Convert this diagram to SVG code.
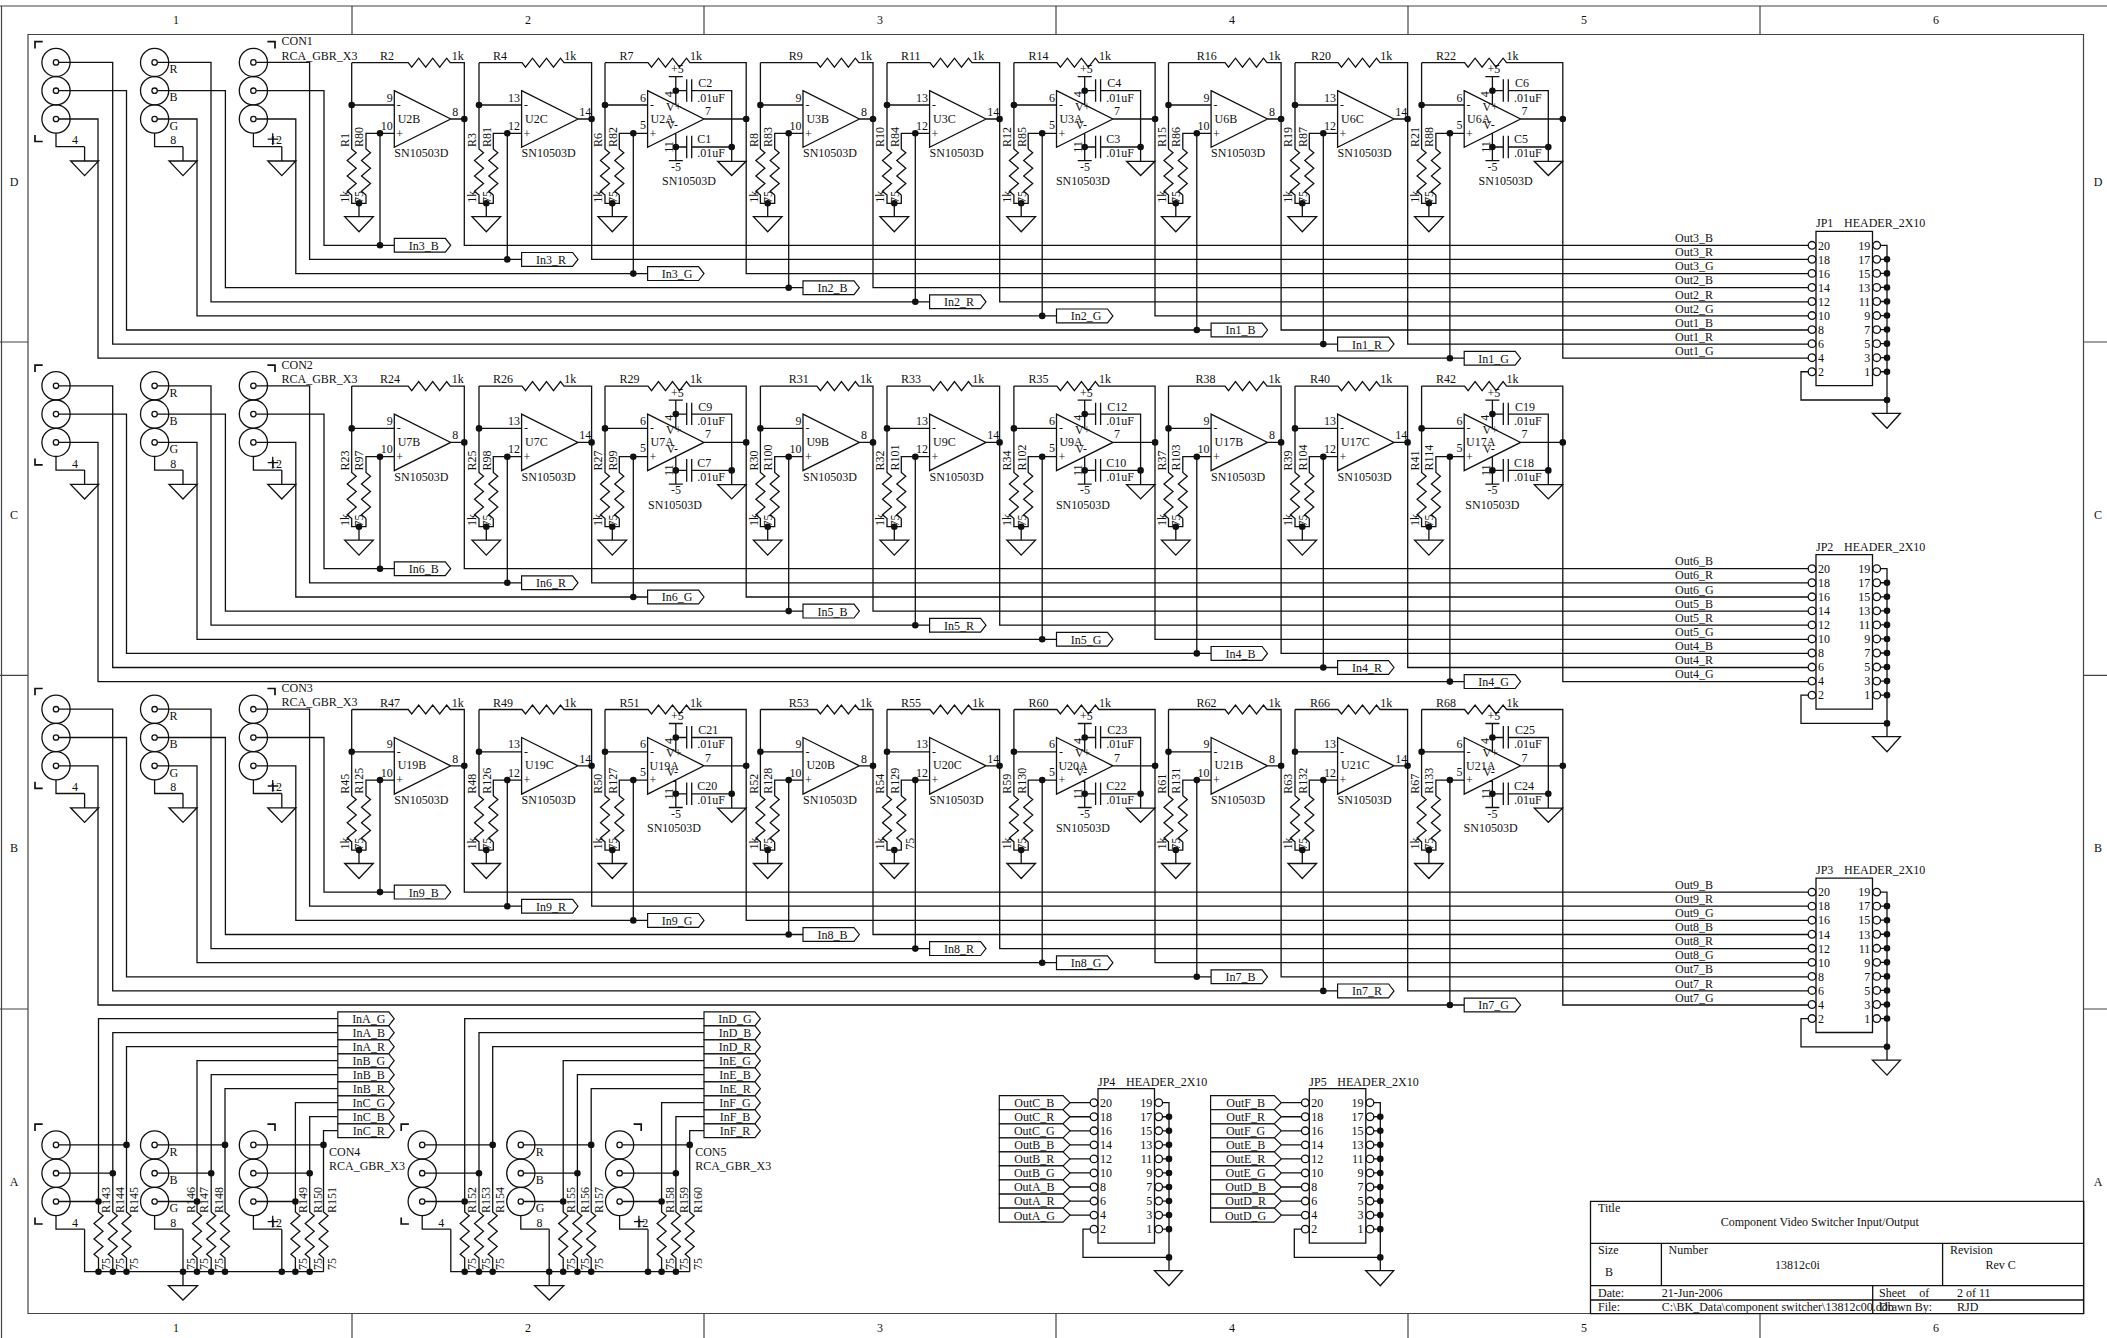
<svg xmlns="http://www.w3.org/2000/svg" width="2107" height="1338" viewBox="0 0 2107 1338">
<style>
text{font:12px "Liberation Serif","Times New Roman",serif;fill:#111}
.m{text-anchor:middle}.e{text-anchor:end}
.w{fill:none;stroke:#111;stroke-width:1.3}
.d{fill:none;stroke:#111;stroke-width:6.6;stroke-linecap:round}
.f{fill:none;stroke:#444;stroke-width:1.2}
.l{fill:#fff;stroke:#111;stroke-width:1.2}
</style>
<defs>
<g id="uB"><path class="w" d="M0 62.7H56.5l3.500 4.500 7-9 7 9 7-9 7 9 7-9 3.500 4.500H112.600V119H99M42.600 90.700L99 119 42.600 147.300ZM0 105H42.600M0 62.700V149l4.500 3.800-9 7.700 9 7.700-9 7.700 9 7.700-9 7.700 4.500 3.800V203.300H14.300V195.100M42.600 133.300H14.300V149l4.500 3.800-9 7.700 9 7.700-9 7.700 9 7.700-9 7.700 4.500 3.800M7.300 203.300V216.700M-7 216.700H21.600L7.300 231.700Z"/><path class="d" d="M0 105h0M112.600 119h0M28.300 133.300h0M7.300 203.300h0"/></g>
<g id="uC"><path class="w" d="M0 62.7H43l3.500 4.500 7-9 7 9 7-9 7 9 7-9 3.500 4.500H112.600V119H99M42.600 90.700L99 119 42.600 147.300ZM0 105H42.600M0 62.700V149l4.500 3.800-9 7.700 9 7.700-9 7.700 9 7.700-9 7.700 4.500 3.800V203.300H14.300V195.100M42.600 133.300H14.300V149l4.500 3.800-9 7.700 9 7.700-9 7.700 9 7.700-9 7.700 4.500 3.800M7.300 203.300V216.700M-7 216.700H21.600L7.300 231.700Z"/><path class="d" d="M0 105h0M112.600 119h0M28.300 133.300h0M7.300 203.300h0"/></g>
<g id="uP"><path class="w" d="M0 62.7H43l3.500 4.500 7-9 7 9 7-9 7 9 7-9 3.500 4.500H141.200V119H99M42.600 90.700L99 119 42.600 147.300ZM0 105H42.600M0 62.700V149l4.500 3.800-9 7.700 9 7.700-9 7.700 9 7.700-9 7.700 4.500 3.800V203.300H14.300V195.100M42.600 133.300H14.300V149l4.500 3.800-9 7.700 9 7.700-9 7.700 9 7.700-9 7.700 4.500 3.800M7.300 203.300V216.700M-7 216.700H21.600L7.300 231.700ZM70.800 76.700V105M63.800 76.700H77.800M70.800 133V160.700M63.800 160.700H77.800M70.800 90.700H81.700M86.700 90.700H126.700V161.300M81.700 79.300V101.700M86.700 79.300V101.700M70.800 147H81.700M86.700 147H126.700M81.700 135.700V158.300M86.700 135.700V158.300M112.700 161.300H141L126.700 175.500Z"/><path class="d" d="M0 105h0M141.200 119h0M28.300 133.300h0M7.300 203.300h0M70.800 90.700h0M70.800 147h0M126.700 147h0"/></g>
<g id="rca"><g class="w"><circle cx="56" cy="62.400" r="14.100"/><circle cx="56" cy="90.700" r="14.100"/><circle cx="56" cy="119" r="14.100"/><circle cx="154.600" cy="62.400" r="14.100"/><circle cx="154.600" cy="90.700" r="14.100"/><circle cx="154.600" cy="119" r="14.100"/><circle cx="253.400" cy="62.400" r="14.100"/><circle cx="253.400" cy="90.700" r="14.100"/><circle cx="253.400" cy="119" r="14.100"/><circle cx="56" cy="62.400" r="2.700"/><circle cx="56" cy="90.700" r="2.700"/><circle cx="56" cy="119" r="2.700"/><circle cx="154.600" cy="62.400" r="2.700"/><circle cx="154.600" cy="90.700" r="2.700"/><circle cx="154.600" cy="119" r="2.700"/><circle cx="253.400" cy="62.400" r="2.700"/><circle cx="253.400" cy="90.700" r="2.700"/><circle cx="253.400" cy="119" r="2.700"/><path d="M56 133.100V146.700H84.600M154.600 133.100V146.700H183M253.400 133.100V146.700H281.800M272.700 133.300V145M267.700 139.200H278.300"/><path stroke-width="1.700" d="M42.700 41.700H35V48.500M35 135V141.500H42.700M267.400 41.700H275V48.500"/></g></g>
<path id="rcaG" class="w" d="M84.600 146.700V161M70.600 161H98.600L84.600 175.600ZM183 146.700V161M169 161H197L183 175.600ZM281.800 146.700V161M267.800 161H295.800L281.800 175.600Z"/>
<path id="lbl" class="l" d="M0-6.900H51L56.400 0 51 6.900H0Z"/>
<path id="lbO" class="l" d="M0-7H63.700L70.700 0 63.700 7H0Z"/>
<g id="hdr"><path class="w" d="M0-14H56.500V140.400H0ZM64.500 0H71V168M-7.800 126.450H-15V154.700H71M56.500 168H84.400L71 183Z"/><g class="w"><circle cx="-4" cy="0" r="3.800"/><circle cx="-4" cy="14.050" r="3.800"/><circle cx="-4" cy="28.100" r="3.800"/><circle cx="-4" cy="42.150" r="3.800"/><circle cx="-4" cy="56.200" r="3.800"/><circle cx="-4" cy="70.250" r="3.800"/><circle cx="-4" cy="84.300" r="3.800"/><circle cx="-4" cy="98.350" r="3.800"/><circle cx="-4" cy="112.400" r="3.800"/><circle cx="-4" cy="126.450" r="3.800"/><circle cx="60.700" cy="0" r="3.800"/><circle cx="60.700" cy="14.050" r="3.800"/><circle cx="60.700" cy="28.100" r="3.800"/><circle cx="60.700" cy="42.150" r="3.800"/><circle cx="60.700" cy="56.200" r="3.800"/><circle cx="60.700" cy="70.250" r="3.800"/><circle cx="60.700" cy="84.300" r="3.800"/><circle cx="60.700" cy="98.350" r="3.800"/><circle cx="60.700" cy="112.400" r="3.800"/><circle cx="60.700" cy="126.450" r="3.800"/><path d="M64.500 14.050H71M64.500 28.100H71M64.500 42.150H71M64.500 56.200H71M64.500 70.250H71M64.500 84.300H71M64.500 98.350H71M64.500 112.400H71M64.500 126.450H71"/></g><path class="d" d="M71 14.050h0M71 28.100h0M71 42.150h0M71 56.200h0M71 70.250h0M71 84.300h0M71 98.350h0M71 112.400h0M71 126.450h0M71 154.700h0"/></g>
</defs>
<rect width="2107" height="1338" fill="#fff"/>
<g id="frame"><path class="f" d="M0 6H2107M1.500 6V1338M28 34.500H2083.500V1313.500H28ZM352 6V34.500M704 6V34.500M1056 6V34.500M1408 6V34.500M1760 6V34.500M352 1313.500V1338M704 1313.500V1338M1056 1313.500V1338M1408 1313.500V1338M1760 1313.500V1338M0 342H28M0 675.300H28M0 1009H28M2083.500 342H2107M2083.500 675.300H2107M2083.500 1009H2107"/>
<text class="m" x="176" y="24">1</text><text class="m" x="528" y="24">2</text><text class="m" x="880" y="24">3</text><text class="m" x="1232" y="24">4</text><text class="m" x="1584" y="24">5</text><text class="m" x="1936" y="24">6</text>
<text class="m" x="176" y="1332">1</text><text class="m" x="528" y="1332">2</text><text class="m" x="880" y="1332">3</text><text class="m" x="1232" y="1332">4</text><text class="m" x="1584" y="1332">5</text><text class="m" x="1936" y="1332">6</text>
<text class="m" x="14" y="186">D</text><text class="m" x="14" y="519">C</text><text class="m" x="14" y="852">B</text><text class="m" x="14" y="1186">A</text>
<text class="m" x="2098" y="186">D</text><text class="m" x="2098" y="519">C</text><text class="m" x="2098" y="852">B</text><text class="m" x="2098" y="1186">A</text></g>
<g id="connectors">
<path id="busW" class="w" d="M256.500 90.700H324V245.300H394.300M256.500 62.400H309.600V259.400H521.600M256.500 119H295.800V273.600H647.600M157.600 90.700H225.400V287.700H803M157.600 62.400H211V301.800H929.600M157.600 119H197V315.900H1056.500M59 90.700H126.500V330H1211.100M59 62.400H112.700V344.100H1337.600M59 119H98V358.200H1464.200M464.300 119V245.300H1808M591.700 119V259.400H1808M746.200 119V273.600H1808M873 119V287.700H1808M999.700 119V301.800H1808M1155 119V315.900H1808M1281.100 119V330H1808M1407.700 119V344.100H1808M1562.800 119V358.200H1808M380 133.300V245.300M507.300 133.300V259.400M633.300 133.300V273.600M788.700 133.300V287.700M915.300 133.300V301.800M1042.200 133.300V315.900M1196.800 133.300V330M1323.300 133.300V344.100M1449.900 133.300V358.200"/>
<path id="busD" class="d" d="M380 245.300h0M507.300 259.400h0M633.300 273.600h0M788.700 287.700h0M915.300 301.800h0M1042.200 315.900h0M1196.800 330h0M1323.300 344.100h0M1449.900 358.200h0"/>
<use href="#busW" y="323.400"/><use href="#busD" y="323.400"/><use href="#busW" y="646.800"/><use href="#busD" y="646.800"/>
<path id="botW" class="w" d="M59 1144.900H126.500V1046.700H337.800M59 1173.200H112.800V1032.700H337.800M59 1201.500H98.500V1018.700H337.800M157.600 1144.900H225V1088.700H337.800M157.600 1173.200H211.200V1074.700H337.800M157.600 1201.500H197V1060.700H337.800M256.400 1144.900H323.500V1130.700H337.800M256.400 1173.200H309.700V1116.700H337.800M256.400 1201.500H295.400V1102.700H337.800M98.500 1201.500V1212l4.500 3.800-9 7.700 9 7.700-9 7.700 9 7.700-9 7.700 4.500 3.800V1271.700M112.800 1173.200V1212l4.500 3.800-9 7.700 9 7.700-9 7.700 9 7.700-9 7.700 4.500 3.800V1271.700M126.500 1144.900V1212l4.500 3.800-9 7.700 9 7.700-9 7.700 9 7.700-9 7.700 4.500 3.800V1271.700M197 1201.500V1212l4.500 3.800-9 7.700 9 7.700-9 7.700 9 7.700-9 7.700 4.500 3.800V1271.700M211.200 1173.200V1212l4.500 3.800-9 7.700 9 7.700-9 7.700 9 7.700-9 7.700 4.500 3.800V1271.700M225 1144.900V1212l4.500 3.800-9 7.700 9 7.700-9 7.700 9 7.700-9 7.700 4.500 3.800V1271.700M295.400 1201.500V1212l4.500 3.800-9 7.700 9 7.700-9 7.700 9 7.700-9 7.700 4.500 3.800V1271.700M309.700 1173.200V1212l4.500 3.800-9 7.700 9 7.700-9 7.700 9 7.700-9 7.700 4.500 3.800V1271.700M323.500 1144.900V1212l4.500 3.800-9 7.700 9 7.700-9 7.700 9 7.700-9 7.700 4.500 3.800V1271.700M84.600 1229.200V1271.700H323.500M183 1229.200V1285.700M281.800 1229.200V1271.700M168.400 1285.700H197.600L183 1300Z"/>
<path id="botD" class="d" d="M126.500 1144.900h0M112.800 1173.200h0M98.500 1201.500h0M225 1144.900h0M211.200 1173.200h0M197 1201.500h0M323.500 1144.900h0M309.700 1173.200h0M295.400 1201.500h0M98.500 1271.700h0M112.800 1271.700h0M126.500 1271.700h0M183 1271.700h0M197 1271.700h0M211.200 1271.700h0M225 1271.700h0M281.800 1271.700h0M295.400 1271.700h0M309.700 1271.700h0"/>
<use href="#botW" x="366.200"/><use href="#botD" x="366.200"/>
<path id="outW" class="w" d="M1070 1102.700H1090M1070 1116.750H1090M1070 1130.800H1090M1070 1144.850H1090M1070 1158.900H1090M1070 1172.950H1090M1070 1187H1090M1070 1201.050H1090M1070 1215.100H1090"/>
<use href="#outW" x="211.300"/>
</g>
<g id="row1">
<g id="CON1"><use href="#rca"/><use href="#rcaG"/><text x="169.500" y="73.200">R</text><text x="169.500" y="101.200">B</text><text x="169.500" y="129.900">G</text><text class="m" x="75" y="144.300">4</text><text class="m" x="173.300" y="144.300">8</text><text x="270" y="144.300">12</text><text x="281.500" y="45.200">CON1</text><text x="281.500" y="59.500">RCA_GBR_X3</text></g>
<g id="U2B" transform="translate(351.7 0)"><use href="#uB"/><text x="28.300" y="60">R2</text><text x="100" y="60">1k</text><text class="e" x="41" y="101.700">9</text><text class="e" x="41" y="130">10</text><text x="100.600" y="116">8</text><text x="45" y="109">-</text><text x="44.500" y="137.500">+</text><text x="46" y="122.700">U2B</text><text x="42.600" y="157.300">SN10503D</text><text transform="translate(-2.7 147)rotate(-90)">R1</text><text transform="translate(11.6 147)rotate(-90)">R80</text><text transform="translate(-2.7 202.7)rotate(-90)">1k</text><text transform="translate(11.6 203)rotate(-90)">75</text></g>
<g id="U2C" transform="translate(479 0)"><use href="#uC"/><text x="14" y="60">R4</text><text x="85.300" y="60">1k</text><text class="e" x="41" y="101.700">13</text><text class="e" x="41" y="130">12</text><text x="100.300" y="116">14</text><text x="45" y="109">-</text><text x="44.500" y="137.500">+</text><text x="46" y="122.700">U2C</text><text x="42.600" y="157.300">SN10503D</text><text transform="translate(-2.7 147)rotate(-90)">R3</text><text transform="translate(11.6 147)rotate(-90)">R81</text><text transform="translate(-2.7 202.7)rotate(-90)">1k</text><text transform="translate(11.6 203)rotate(-90)">75</text></g>
<g id="U2A" transform="translate(605 0)"><use href="#uP"/><text x="14.500" y="60">R7</text><text x="85" y="60">1k</text><text class="e" x="41" y="101.700">6</text><text class="e" x="41" y="129">5</text><text x="100" y="115">7</text><text x="45" y="109">-</text><text x="44.500" y="137.500">+</text><text x="45.500" y="123">U2A</text><text x="61" y="110.700">V+</text><text x="61.500" y="129.300">V-</text><text transform="translate(67.7 97.3)rotate(-90)">4</text><text transform="translate(68 152.7)rotate(-90)">11</text><text x="66" y="73.300">+5</text><text x="66" y="171">-5</text><text x="93.300" y="87.300">C2</text><text x="92.300" y="101.700">.01uF</text><text x="92.300" y="143.300">C1</text><text x="92.300" y="157.300">.01uF</text><text x="57" y="185.300">SN10503D</text><text transform="translate(-2.7 147)rotate(-90)">R6</text><text transform="translate(11.6 147)rotate(-90)">R82</text><text transform="translate(-2.7 202.7)rotate(-90)">1k</text><text transform="translate(11.6 203)rotate(-90)">75</text></g>
<g id="U3B" transform="translate(760.4 0)"><use href="#uB"/><text x="28.300" y="60">R9</text><text x="99.500" y="60">1k</text><text class="e" x="41" y="101.700">9</text><text class="e" x="41" y="130">10</text><text x="100.600" y="116">8</text><text x="45" y="109">-</text><text x="44.500" y="137.500">+</text><text x="46" y="122.700">U3B</text><text x="42.600" y="157.300">SN10503D</text><text transform="translate(-2.7 147)rotate(-90)">R8</text><text transform="translate(11.6 147)rotate(-90)">R83</text><text transform="translate(-2.7 202.7)rotate(-90)">1k</text><text transform="translate(11.6 203)rotate(-90)">75</text></g>
<g id="U3C" transform="translate(887 0)"><use href="#uC"/><text x="14" y="60">R11</text><text x="85.300" y="60">1k</text><text class="e" x="41" y="101.700">13</text><text class="e" x="41" y="130">12</text><text x="100.300" y="116">14</text><text x="45" y="109">-</text><text x="44.500" y="137.500">+</text><text x="46" y="122.700">U3C</text><text x="42.600" y="157.300">SN10503D</text><text transform="translate(-2.7 147)rotate(-90)">R10</text><text transform="translate(11.6 147)rotate(-90)">R84</text><text transform="translate(-2.7 202.7)rotate(-90)">1k</text><text transform="translate(11.6 203)rotate(-90)">75</text></g>
<g id="U3A" transform="translate(1013.9 0)"><use href="#uP"/><text x="14.500" y="60">R14</text><text x="85" y="60">1k</text><text class="e" x="41" y="101.700">6</text><text class="e" x="41" y="129">5</text><text x="100" y="115">7</text><text x="45" y="109">-</text><text x="44.500" y="137.500">+</text><text x="45.500" y="123">U3A</text><text x="61" y="110.700">V+</text><text x="61.500" y="129.300">V-</text><text transform="translate(67.7 97.3)rotate(-90)">4</text><text transform="translate(68 152.7)rotate(-90)">11</text><text x="66" y="73.300">+5</text><text x="66" y="171">-5</text><text x="93.300" y="87.300">C4</text><text x="92.300" y="101.700">.01uF</text><text x="92.300" y="143.300">C3</text><text x="92.300" y="157.300">.01uF</text><text x="42" y="185.300">SN10503D</text><text transform="translate(-2.7 147)rotate(-90)">R12</text><text transform="translate(11.6 147)rotate(-90)">R85</text><text transform="translate(-2.7 202.7)rotate(-90)">1k</text><text transform="translate(11.6 203)rotate(-90)">75</text></g>
<g id="U6B" transform="translate(1168.5 0)"><use href="#uB"/><text x="28.300" y="60">R16</text><text x="100" y="60">1k</text><text class="e" x="41" y="101.700">9</text><text class="e" x="41" y="130">10</text><text x="100.600" y="116">8</text><text x="45" y="109">-</text><text x="44.500" y="137.500">+</text><text x="46" y="122.700">U6B</text><text x="42.600" y="157.300">SN10503D</text><text transform="translate(-2.7 147)rotate(-90)">R15</text><text transform="translate(11.6 147)rotate(-90)">R86</text><text transform="translate(-2.7 202.7)rotate(-90)">1k</text><text transform="translate(11.6 203)rotate(-90)">75</text></g>
<g id="U6C" transform="translate(1295 0)"><use href="#uC"/><text x="16" y="60">R20</text><text x="85.300" y="60">1k</text><text class="e" x="41" y="101.700">13</text><text class="e" x="41" y="130">12</text><text x="100.300" y="116">14</text><text x="45" y="109">-</text><text x="44.500" y="137.500">+</text><text x="46" y="122.700">U6C</text><text x="42.600" y="157.300">SN10503D</text><text transform="translate(-2.7 147)rotate(-90)">R19</text><text transform="translate(11.6 147)rotate(-90)">R87</text><text transform="translate(-2.7 202.7)rotate(-90)">1k</text><text transform="translate(11.6 203)rotate(-90)">75</text></g>
<g id="U6A" transform="translate(1421.6 0)"><use href="#uP"/><text x="14.500" y="60">R22</text><text x="85" y="60">1k</text><text class="e" x="41" y="101.700">6</text><text class="e" x="41" y="129">5</text><text x="100" y="115">7</text><text x="45" y="109">-</text><text x="44.500" y="137.500">+</text><text x="45.500" y="123">U6A</text><text x="61" y="110.700">V+</text><text x="61.500" y="129.300">V-</text><text transform="translate(67.7 97.3)rotate(-90)">4</text><text transform="translate(68 152.7)rotate(-90)">11</text><text x="66" y="73.300">+5</text><text x="66" y="171">-5</text><text x="93.300" y="87.300">C6</text><text x="92.300" y="101.700">.01uF</text><text x="92.300" y="143.300">C5</text><text x="92.300" y="157.300">.01uF</text><text x="57" y="185.300">SN10503D</text><text transform="translate(-2.7 147)rotate(-90)">R21</text><text transform="translate(11.6 147)rotate(-90)">R88</text><text transform="translate(-2.7 202.7)rotate(-90)">1k</text><text transform="translate(11.6 203)rotate(-90)">75</text></g>
<g id="In3_B" transform="translate(394.3 245.3)"><use href="#lbl"/><text class="m" x="29.500" y="4.400">In3_B</text></g>
<g id="In3_R" transform="translate(521.6 259.4)"><use href="#lbl"/><text class="m" x="29.500" y="4.400">In3_R</text></g>
<g id="In3_G" transform="translate(647.6 273.6)"><use href="#lbl"/><text class="m" x="29.500" y="4.400">In3_G</text></g>
<g id="In2_B" transform="translate(803 287.7)"><use href="#lbl"/><text class="m" x="29.500" y="4.400">In2_B</text></g>
<g id="In2_R" transform="translate(929.6 301.8)"><use href="#lbl"/><text class="m" x="29.500" y="4.400">In2_R</text></g>
<g id="In2_G" transform="translate(1056.5 315.9)"><use href="#lbl"/><text class="m" x="29.500" y="4.400">In2_G</text></g>
<g id="In1_B" transform="translate(1211.1 330)"><use href="#lbl"/><text class="m" x="29.500" y="4.400">In1_B</text></g>
<g id="In1_R" transform="translate(1337.6 344.1)"><use href="#lbl"/><text class="m" x="29.500" y="4.400">In1_R</text></g>
<g id="In1_G" transform="translate(1464.2 358.2)"><use href="#lbl"/><text class="m" x="29.500" y="4.400">In1_G</text></g>
<g id="nets1"><text x="1675" y="242">Out3_B</text><text x="1675" y="256.100">Out3_R</text><text x="1675" y="270.300">Out3_G</text><text x="1675" y="284.400">Out2_B</text><text x="1675" y="298.500">Out2_R</text><text x="1675" y="312.600">Out2_G</text><text x="1675" y="326.700">Out1_B</text><text x="1675" y="340.800">Out1_R</text><text x="1675" y="354.900">Out1_G</text></g>
</g>
<g id="row2" transform="translate(0 323.4)">
<g id="CON2"><use href="#rca"/><use href="#rcaG"/><text x="169.500" y="73.200">R</text><text x="169.500" y="101.200">B</text><text x="169.500" y="129.900">G</text><text class="m" x="75" y="144.300">4</text><text class="m" x="173.300" y="144.300">8</text><text x="270" y="144.300">12</text><text x="281.500" y="45.200">CON2</text><text x="281.500" y="59.500">RCA_GBR_X3</text></g>
<g id="U7B" transform="translate(351.7 0)"><use href="#uB"/><text x="28.300" y="60">R24</text><text x="100" y="60">1k</text><text class="e" x="41" y="101.700">9</text><text class="e" x="41" y="130">10</text><text x="100.600" y="116">8</text><text x="45" y="109">-</text><text x="44.500" y="137.500">+</text><text x="46" y="122.700">U7B</text><text x="42.600" y="157.300">SN10503D</text><text transform="translate(-2.7 147)rotate(-90)">R23</text><text transform="translate(11.6 147)rotate(-90)">R97</text><text transform="translate(-2.7 202.7)rotate(-90)">1k</text><text transform="translate(11.6 203)rotate(-90)">75</text></g>
<g id="U7C" transform="translate(479 0)"><use href="#uC"/><text x="14" y="60">R26</text><text x="85.300" y="60">1k</text><text class="e" x="41" y="101.700">13</text><text class="e" x="41" y="130">12</text><text x="100.300" y="116">14</text><text x="45" y="109">-</text><text x="44.500" y="137.500">+</text><text x="46" y="122.700">U7C</text><text x="42.600" y="157.300">SN10503D</text><text transform="translate(-2.7 147)rotate(-90)">R25</text><text transform="translate(11.6 147)rotate(-90)">R98</text><text transform="translate(-2.7 202.7)rotate(-90)">1k</text><text transform="translate(11.6 203)rotate(-90)">75</text></g>
<g id="U7A" transform="translate(605 0)"><use href="#uP"/><text x="14.500" y="60">R29</text><text x="85" y="60">1k</text><text class="e" x="41" y="101.700">6</text><text class="e" x="41" y="129">5</text><text x="100" y="115">7</text><text x="45" y="109">-</text><text x="44.500" y="137.500">+</text><text x="45.500" y="123">U7A</text><text x="61" y="110.700">V+</text><text x="61.500" y="129.300">V-</text><text transform="translate(67.7 97.3)rotate(-90)">4</text><text transform="translate(68 152.7)rotate(-90)">11</text><text x="66" y="73.300">+5</text><text x="66" y="171">-5</text><text x="93.300" y="87.300">C9</text><text x="92.300" y="101.700">.01uF</text><text x="92.300" y="143.300">C7</text><text x="92.300" y="157.300">.01uF</text><text x="43" y="185.300">SN10503D</text><text transform="translate(-2.7 147)rotate(-90)">R27</text><text transform="translate(11.6 147)rotate(-90)">R99</text><text transform="translate(-2.7 202.7)rotate(-90)">1k</text><text transform="translate(11.6 203)rotate(-90)">75</text></g>
<g id="U9B" transform="translate(760.4 0)"><use href="#uB"/><text x="28.300" y="60">R31</text><text x="99.500" y="60">1k</text><text class="e" x="41" y="101.700">9</text><text class="e" x="41" y="130">10</text><text x="100.600" y="116">8</text><text x="45" y="109">-</text><text x="44.500" y="137.500">+</text><text x="46" y="122.700">U9B</text><text x="42.600" y="157.300">SN10503D</text><text transform="translate(-2.7 147)rotate(-90)">R30</text><text transform="translate(11.6 147)rotate(-90)">R100</text><text transform="translate(-2.7 202.7)rotate(-90)">1k</text><text transform="translate(11.6 203)rotate(-90)">75</text></g>
<g id="U9C" transform="translate(887 0)"><use href="#uC"/><text x="14" y="60">R33</text><text x="85.300" y="60">1k</text><text class="e" x="41" y="101.700">13</text><text class="e" x="41" y="130">12</text><text x="100.300" y="116">14</text><text x="45" y="109">-</text><text x="44.500" y="137.500">+</text><text x="46" y="122.700">U9C</text><text x="42.600" y="157.300">SN10503D</text><text transform="translate(-2.7 147)rotate(-90)">R32</text><text transform="translate(11.6 147)rotate(-90)">R101</text><text transform="translate(-2.7 202.7)rotate(-90)">1k</text><text transform="translate(11.6 203)rotate(-90)">75</text></g>
<g id="U9A" transform="translate(1013.9 0)"><use href="#uP"/><text x="14.500" y="60">R35</text><text x="85" y="60">1k</text><text class="e" x="41" y="101.700">6</text><text class="e" x="41" y="129">5</text><text x="100" y="115">7</text><text x="45" y="109">-</text><text x="44.500" y="137.500">+</text><text x="45.500" y="123">U9A</text><text x="61" y="110.700">V+</text><text x="61.500" y="129.300">V-</text><text transform="translate(67.7 97.3)rotate(-90)">4</text><text transform="translate(68 152.7)rotate(-90)">11</text><text x="66" y="73.300">+5</text><text x="66" y="171">-5</text><text x="93.300" y="87.300">C12</text><text x="92.300" y="101.700">.01uF</text><text x="92.300" y="143.300">C10</text><text x="92.300" y="157.300">.01uF</text><text x="42" y="185.300">SN10503D</text><text transform="translate(-2.7 147)rotate(-90)">R34</text><text transform="translate(11.6 147)rotate(-90)">R102</text><text transform="translate(-2.7 202.7)rotate(-90)">1k</text><text transform="translate(11.6 203)rotate(-90)">75</text></g>
<g id="U17B" transform="translate(1168.5 0)"><use href="#uB"/><text x="27" y="60">R38</text><text x="100" y="60">1k</text><text class="e" x="41" y="101.700">9</text><text class="e" x="41" y="130">10</text><text x="100.600" y="116">8</text><text x="45" y="109">-</text><text x="44.500" y="137.500">+</text><text x="46" y="122.700">U17B</text><text x="42.600" y="157.300">SN10503D</text><text transform="translate(-2.7 147)rotate(-90)">R37</text><text transform="translate(11.6 147)rotate(-90)">R103</text><text transform="translate(-2.7 202.7)rotate(-90)">1k</text><text transform="translate(11.6 203)rotate(-90)">75</text></g>
<g id="U17C" transform="translate(1295 0)"><use href="#uC"/><text x="15" y="60">R40</text><text x="85.300" y="60">1k</text><text class="e" x="41" y="101.700">13</text><text class="e" x="41" y="130">12</text><text x="100.300" y="116">14</text><text x="45" y="109">-</text><text x="44.500" y="137.500">+</text><text x="46" y="122.700">U17C</text><text x="42.600" y="157.300">SN10503D</text><text transform="translate(-2.7 147)rotate(-90)">R39</text><text transform="translate(11.6 147)rotate(-90)">R104</text><text transform="translate(-2.7 202.7)rotate(-90)">1k</text><text transform="translate(11.6 203)rotate(-90)">75</text></g>
<g id="U17A" transform="translate(1421.6 0)"><use href="#uP"/><text x="14.500" y="60">R42</text><text x="85" y="60">1k</text><text class="e" x="41" y="101.700">6</text><text class="e" x="41" y="129">5</text><text x="100" y="115">7</text><text x="45" y="109">-</text><text x="44.500" y="137.500">+</text><text x="44.500" y="123">U17A</text><text x="61" y="110.700">V+</text><text x="61.500" y="129.300">V-</text><text transform="translate(67.7 97.3)rotate(-90)">4</text><text transform="translate(68 152.7)rotate(-90)">11</text><text x="66" y="73.300">+5</text><text x="66" y="171">-5</text><text x="93.300" y="87.300">C19</text><text x="92.300" y="101.700">.01uF</text><text x="92.300" y="143.300">C18</text><text x="92.300" y="157.300">.01uF</text><text x="43.700" y="185.300">SN10503D</text><text transform="translate(-2.7 147)rotate(-90)">R41</text><text transform="translate(11.6 147)rotate(-90)">R114</text><text transform="translate(-2.7 202.7)rotate(-90)">1k</text><text transform="translate(11.6 203)rotate(-90)">75</text></g>
<g id="In6_B" transform="translate(394.3 245.3)"><use href="#lbl"/><text class="m" x="29.500" y="4.400">In6_B</text></g>
<g id="In6_R" transform="translate(521.6 259.4)"><use href="#lbl"/><text class="m" x="29.500" y="4.400">In6_R</text></g>
<g id="In6_G" transform="translate(647.6 273.6)"><use href="#lbl"/><text class="m" x="29.500" y="4.400">In6_G</text></g>
<g id="In5_B" transform="translate(803 287.7)"><use href="#lbl"/><text class="m" x="29.500" y="4.400">In5_B</text></g>
<g id="In5_R" transform="translate(929.6 301.8)"><use href="#lbl"/><text class="m" x="29.500" y="4.400">In5_R</text></g>
<g id="In5_G" transform="translate(1056.5 315.9)"><use href="#lbl"/><text class="m" x="29.500" y="4.400">In5_G</text></g>
<g id="In4_B" transform="translate(1211.1 330)"><use href="#lbl"/><text class="m" x="29.500" y="4.400">In4_B</text></g>
<g id="In4_R" transform="translate(1337.6 344.1)"><use href="#lbl"/><text class="m" x="29.500" y="4.400">In4_R</text></g>
<g id="In4_G" transform="translate(1464.2 358.2)"><use href="#lbl"/><text class="m" x="29.500" y="4.400">In4_G</text></g>
<g id="nets2"><text x="1675" y="242">Out6_B</text><text x="1675" y="256.100">Out6_R</text><text x="1675" y="270.300">Out6_G</text><text x="1675" y="284.400">Out5_B</text><text x="1675" y="298.500">Out5_R</text><text x="1675" y="312.600">Out5_G</text><text x="1675" y="326.700">Out4_B</text><text x="1675" y="340.800">Out4_R</text><text x="1675" y="354.900">Out4_G</text></g>
</g>
<g id="row3" transform="translate(0 646.8)">
<g id="CON3"><use href="#rca"/><use href="#rcaG"/><text x="169.500" y="73.200">R</text><text x="169.500" y="101.200">B</text><text x="169.500" y="129.900">G</text><text class="m" x="75" y="144.300">4</text><text class="m" x="173.300" y="144.300">8</text><text x="270" y="144.300">12</text><text x="281.500" y="45.200">CON3</text><text x="281.500" y="59.500">RCA_GBR_X3</text></g>
<g id="U19B" transform="translate(351.7 0)"><use href="#uB"/><text x="28.300" y="60">R47</text><text x="100" y="60">1k</text><text class="e" x="41" y="101.700">9</text><text class="e" x="41" y="130">10</text><text x="100.600" y="116">8</text><text x="45" y="109">-</text><text x="44.500" y="137.500">+</text><text x="46" y="122.700">U19B</text><text x="42.600" y="157.300">SN10503D</text><text transform="translate(-2.7 147)rotate(-90)">R45</text><text transform="translate(11.6 147)rotate(-90)">R125</text><text transform="translate(-2.7 202.7)rotate(-90)">1k</text><text transform="translate(11.6 203)rotate(-90)">75</text></g>
<g id="U19C" transform="translate(479 0)"><use href="#uC"/><text x="14" y="60">R49</text><text x="85.300" y="60">1k</text><text class="e" x="41" y="101.700">13</text><text class="e" x="41" y="130">12</text><text x="100.300" y="116">14</text><text x="45" y="109">-</text><text x="44.500" y="137.500">+</text><text x="46" y="122.700">U19C</text><text x="42.600" y="157.300">SN10503D</text><text transform="translate(-2.7 147)rotate(-90)">R48</text><text transform="translate(11.6 147)rotate(-90)">R126</text><text transform="translate(-2.7 202.7)rotate(-90)">1k</text><text transform="translate(11.6 203)rotate(-90)">75</text></g>
<g id="U19A" transform="translate(605 0)"><use href="#uP"/><text x="14.500" y="60">R51</text><text x="85" y="60">1k</text><text class="e" x="41" y="101.700">6</text><text class="e" x="41" y="129">5</text><text x="100" y="115">7</text><text x="45" y="109">-</text><text x="44.500" y="137.500">+</text><text x="44.500" y="123">U19A</text><text x="61" y="110.700">V+</text><text x="61.500" y="129.300">V-</text><text transform="translate(67.7 97.3)rotate(-90)">4</text><text transform="translate(68 152.7)rotate(-90)">11</text><text x="66" y="73.300">+5</text><text x="66" y="171">-5</text><text x="93.300" y="87.300">C21</text><text x="92.300" y="101.700">.01uF</text><text x="92.300" y="143.300">C20</text><text x="92.300" y="157.300">.01uF</text><text x="42" y="185.300">SN10503D</text><text transform="translate(-2.7 147)rotate(-90)">R50</text><text transform="translate(11.6 147)rotate(-90)">R127</text><text transform="translate(-2.7 202.7)rotate(-90)">1k</text><text transform="translate(11.6 203)rotate(-90)">75</text></g>
<g id="U20B" transform="translate(760.4 0)"><use href="#uB"/><text x="28.300" y="60">R53</text><text x="99.500" y="60">1k</text><text class="e" x="41" y="101.700">9</text><text class="e" x="41" y="130">10</text><text x="100.600" y="116">8</text><text x="45" y="109">-</text><text x="44.500" y="137.500">+</text><text x="46" y="122.700">U20B</text><text x="42.600" y="157.300">SN10503D</text><text transform="translate(-2.7 147)rotate(-90)">R52</text><text transform="translate(11.6 147)rotate(-90)">R128</text><text transform="translate(-2.7 202.7)rotate(-90)">1k</text><text transform="translate(11.6 203)rotate(-90)">75</text></g>
<g id="U20C" transform="translate(887 0)"><use href="#uC"/><text x="14" y="60">R55</text><text x="85.300" y="60">1k</text><text class="e" x="41" y="101.700">13</text><text class="e" x="41" y="130">12</text><text x="100.300" y="116">14</text><text x="45" y="109">-</text><text x="44.500" y="137.500">+</text><text x="46" y="122.700">U20C</text><text x="42.600" y="157.300">SN10503D</text><text transform="translate(-2.7 147)rotate(-90)">R54</text><text transform="translate(11.6 147)rotate(-90)">R129</text><text transform="translate(-2.7 202.7)rotate(-90)">1k</text><text transform="translate(27 203)rotate(-90)">75</text></g>
<g id="U20A" transform="translate(1013.9 0)"><use href="#uP"/><text x="14.500" y="60">R60</text><text x="85" y="60">1k</text><text class="e" x="41" y="101.700">6</text><text class="e" x="41" y="129">5</text><text x="100" y="115">7</text><text x="45" y="109">-</text><text x="44.500" y="137.500">+</text><text x="44.500" y="123">U20A</text><text x="61" y="110.700">V+</text><text x="61.500" y="129.300">V-</text><text transform="translate(67.7 97.3)rotate(-90)">4</text><text transform="translate(68 152.7)rotate(-90)">11</text><text x="66" y="73.300">+5</text><text x="66" y="171">-5</text><text x="93.300" y="87.300">C23</text><text x="92.300" y="101.700">.01uF</text><text x="92.300" y="143.300">C22</text><text x="92.300" y="157.300">.01uF</text><text x="42" y="185.300">SN10503D</text><text transform="translate(-2.7 147)rotate(-90)">R59</text><text transform="translate(11.6 147)rotate(-90)">R130</text><text transform="translate(-2.7 202.7)rotate(-90)">1k</text><text transform="translate(11.6 203)rotate(-90)">75</text></g>
<g id="U21B" transform="translate(1168.5 0)"><use href="#uB"/><text x="28" y="60">R62</text><text x="100" y="60">1k</text><text class="e" x="41" y="101.700">9</text><text class="e" x="41" y="130">10</text><text x="100.600" y="116">8</text><text x="45" y="109">-</text><text x="44.500" y="137.500">+</text><text x="46" y="122.700">U21B</text><text x="42.600" y="157.300">SN10503D</text><text transform="translate(-2.7 147)rotate(-90)">R61</text><text transform="translate(11.6 147)rotate(-90)">R131</text><text transform="translate(-2.7 202.7)rotate(-90)">1k</text><text transform="translate(11.6 203)rotate(-90)">75</text></g>
<g id="U21C" transform="translate(1295 0)"><use href="#uC"/><text x="15" y="60">R66</text><text x="85.300" y="60">1k</text><text class="e" x="41" y="101.700">13</text><text class="e" x="41" y="130">12</text><text x="100.300" y="116">14</text><text x="45" y="109">-</text><text x="44.500" y="137.500">+</text><text x="46" y="122.700">U21C</text><text x="42.600" y="157.300">SN10503D</text><text transform="translate(-2.7 147)rotate(-90)">R63</text><text transform="translate(11.6 147)rotate(-90)">R132</text><text transform="translate(-2.7 202.7)rotate(-90)">1k</text><text transform="translate(11.6 203)rotate(-90)">75</text></g>
<g id="U21A" transform="translate(1421.6 0)"><use href="#uP"/><text x="14.500" y="60">R68</text><text x="85" y="60">1k</text><text class="e" x="41" y="101.700">6</text><text class="e" x="41" y="129">5</text><text x="100" y="115">7</text><text x="45" y="109">-</text><text x="44.500" y="137.500">+</text><text x="44.500" y="123">U21A</text><text x="61" y="110.700">V+</text><text x="61.500" y="129.300">V-</text><text transform="translate(67.7 97.3)rotate(-90)">4</text><text transform="translate(68 152.7)rotate(-90)">11</text><text x="66" y="73.300">+5</text><text x="66" y="171">-5</text><text x="93.300" y="87.300">C25</text><text x="92.300" y="101.700">.01uF</text><text x="92.300" y="143.300">C24</text><text x="92.300" y="157.300">.01uF</text><text x="42" y="185.300">SN10503D</text><text transform="translate(-2.7 147)rotate(-90)">R67</text><text transform="translate(11.6 147)rotate(-90)">R133</text><text transform="translate(-2.7 202.7)rotate(-90)">1k</text><text transform="translate(11.6 203)rotate(-90)">75</text></g>
<g id="In9_B" transform="translate(394.3 245.3)"><use href="#lbl"/><text class="m" x="29.500" y="4.400">In9_B</text></g>
<g id="In9_R" transform="translate(521.6 259.4)"><use href="#lbl"/><text class="m" x="29.500" y="4.400">In9_R</text></g>
<g id="In9_G" transform="translate(647.6 273.6)"><use href="#lbl"/><text class="m" x="29.500" y="4.400">In9_G</text></g>
<g id="In8_B" transform="translate(803 287.7)"><use href="#lbl"/><text class="m" x="29.500" y="4.400">In8_B</text></g>
<g id="In8_R" transform="translate(929.6 301.8)"><use href="#lbl"/><text class="m" x="29.500" y="4.400">In8_R</text></g>
<g id="In8_G" transform="translate(1056.5 315.9)"><use href="#lbl"/><text class="m" x="29.500" y="4.400">In8_G</text></g>
<g id="In7_B" transform="translate(1211.1 330)"><use href="#lbl"/><text class="m" x="29.500" y="4.400">In7_B</text></g>
<g id="In7_R" transform="translate(1337.6 344.1)"><use href="#lbl"/><text class="m" x="29.500" y="4.400">In7_R</text></g>
<g id="In7_G" transform="translate(1464.2 358.2)"><use href="#lbl"/><text class="m" x="29.500" y="4.400">In7_G</text></g>
<g id="nets3"><text x="1675" y="242">Out9_B</text><text x="1675" y="256.100">Out9_R</text><text x="1675" y="270.300">Out9_G</text><text x="1675" y="284.400">Out8_B</text><text x="1675" y="298.500">Out8_R</text><text x="1675" y="312.600">Out8_G</text><text x="1675" y="326.700">Out7_B</text><text x="1675" y="340.800">Out7_R</text><text x="1675" y="354.900">Out7_G</text></g>
</g>
<g id="JP1" transform="translate(1816 245.3)"><use href="#hdr"/><text y="-18">JP1</text><text x="28" y="-18">HEADER_2X10</text><text x="2" y="4.300">20</text><text x="2" y="18.350">18</text><text x="2" y="32.400">16</text><text x="2" y="46.450">14</text><text x="2" y="60.500">12</text><text x="2" y="74.550">10</text><text x="2" y="88.600">8</text><text x="2" y="102.650">6</text><text x="2" y="116.700">4</text><text x="2" y="130.750">2</text><text class="e" x="54.300" y="4.300">19</text><text class="e" x="54.300" y="18.350">17</text><text class="e" x="54.300" y="32.400">15</text><text class="e" x="54.300" y="46.450">13</text><text class="e" x="54.300" y="60.500">11</text><text class="e" x="54.300" y="74.550">9</text><text class="e" x="54.300" y="88.600">7</text><text class="e" x="54.300" y="102.650">5</text><text class="e" x="54.300" y="116.700">3</text><text class="e" x="54.300" y="130.750">1</text></g>
<g id="JP2" transform="translate(1816 568.7)"><use href="#hdr"/><text y="-18">JP2</text><text x="28" y="-18">HEADER_2X10</text><text x="2" y="4.300">20</text><text x="2" y="18.350">18</text><text x="2" y="32.400">16</text><text x="2" y="46.450">14</text><text x="2" y="60.500">12</text><text x="2" y="74.550">10</text><text x="2" y="88.600">8</text><text x="2" y="102.650">6</text><text x="2" y="116.700">4</text><text x="2" y="130.750">2</text><text class="e" x="54.300" y="4.300">19</text><text class="e" x="54.300" y="18.350">17</text><text class="e" x="54.300" y="32.400">15</text><text class="e" x="54.300" y="46.450">13</text><text class="e" x="54.300" y="60.500">11</text><text class="e" x="54.300" y="74.550">9</text><text class="e" x="54.300" y="88.600">7</text><text class="e" x="54.300" y="102.650">5</text><text class="e" x="54.300" y="116.700">3</text><text class="e" x="54.300" y="130.750">1</text></g>
<g id="JP3" transform="translate(1816 892.1)"><use href="#hdr"/><text y="-18">JP3</text><text x="28" y="-18">HEADER_2X10</text><text x="2" y="4.300">20</text><text x="2" y="18.350">18</text><text x="2" y="32.400">16</text><text x="2" y="46.450">14</text><text x="2" y="60.500">12</text><text x="2" y="74.550">10</text><text x="2" y="88.600">8</text><text x="2" y="102.650">6</text><text x="2" y="116.700">4</text><text x="2" y="130.750">2</text><text class="e" x="54.300" y="4.300">19</text><text class="e" x="54.300" y="18.350">17</text><text class="e" x="54.300" y="32.400">15</text><text class="e" x="54.300" y="46.450">13</text><text class="e" x="54.300" y="60.500">11</text><text class="e" x="54.300" y="74.550">9</text><text class="e" x="54.300" y="88.600">7</text><text class="e" x="54.300" y="102.650">5</text><text class="e" x="54.300" y="116.700">3</text><text class="e" x="54.300" y="130.750">1</text></g>
<g id="JP4" transform="translate(1098 1102.7)"><use href="#hdr"/><text y="-17">JP4</text><text x="28" y="-17">HEADER_2X10</text><text x="2" y="4.300">20</text><text x="2" y="18.350">18</text><text x="2" y="32.400">16</text><text x="2" y="46.450">14</text><text x="2" y="60.500">12</text><text x="2" y="74.550">10</text><text x="2" y="88.600">8</text><text x="2" y="102.650">6</text><text x="2" y="116.700">4</text><text x="2" y="130.750">2</text><text class="e" x="54.300" y="4.300">19</text><text class="e" x="54.300" y="18.350">17</text><text class="e" x="54.300" y="32.400">15</text><text class="e" x="54.300" y="46.450">13</text><text class="e" x="54.300" y="60.500">11</text><text class="e" x="54.300" y="74.550">9</text><text class="e" x="54.300" y="88.600">7</text><text class="e" x="54.300" y="102.650">5</text><text class="e" x="54.300" y="116.700">3</text><text class="e" x="54.300" y="130.750">1</text></g>
<g id="JP5" transform="translate(1309.3 1102.7)"><use href="#hdr"/><text y="-17">JP5</text><text x="28" y="-17">HEADER_2X10</text><text x="2" y="4.300">20</text><text x="2" y="18.350">18</text><text x="2" y="32.400">16</text><text x="2" y="46.450">14</text><text x="2" y="60.500">12</text><text x="2" y="74.550">10</text><text x="2" y="88.600">8</text><text x="2" y="102.650">6</text><text x="2" y="116.700">4</text><text x="2" y="130.750">2</text><text class="e" x="54.300" y="4.300">19</text><text class="e" x="54.300" y="18.350">17</text><text class="e" x="54.300" y="32.400">15</text><text class="e" x="54.300" y="46.450">13</text><text class="e" x="54.300" y="60.500">11</text><text class="e" x="54.300" y="74.550">9</text><text class="e" x="54.300" y="88.600">7</text><text class="e" x="54.300" y="102.650">5</text><text class="e" x="54.300" y="116.700">3</text><text class="e" x="54.300" y="130.750">1</text></g>
<g id="outLabels4">
<g transform="translate(999.3 1102.7)"><use href="#lbO"/><text class="m" x="35" y="4.400">OutC_B</text></g>
<g transform="translate(999.3 1116.75)"><use href="#lbO"/><text class="m" x="35" y="4.400">OutC_R</text></g>
<g transform="translate(999.3 1130.8)"><use href="#lbO"/><text class="m" x="35" y="4.400">OutC_G</text></g>
<g transform="translate(999.3 1144.85)"><use href="#lbO"/><text class="m" x="35" y="4.400">OutB_B</text></g>
<g transform="translate(999.3 1158.9)"><use href="#lbO"/><text class="m" x="35" y="4.400">OutB_R</text></g>
<g transform="translate(999.3 1172.95)"><use href="#lbO"/><text class="m" x="35" y="4.400">OutB_G</text></g>
<g transform="translate(999.3 1187)"><use href="#lbO"/><text class="m" x="35" y="4.400">OutA_B</text></g>
<g transform="translate(999.3 1201.05)"><use href="#lbO"/><text class="m" x="35" y="4.400">OutA_R</text></g>
<g transform="translate(999.3 1215.1)"><use href="#lbO"/><text class="m" x="35" y="4.400">OutA_G</text></g>
</g>
<g id="outLabels5">
<g transform="translate(1210.6 1102.7)"><use href="#lbO"/><text class="m" x="35" y="4.400">OutF_B</text></g>
<g transform="translate(1210.6 1116.75)"><use href="#lbO"/><text class="m" x="35" y="4.400">OutF_R</text></g>
<g transform="translate(1210.6 1130.8)"><use href="#lbO"/><text class="m" x="35" y="4.400">OutF_G</text></g>
<g transform="translate(1210.6 1144.85)"><use href="#lbO"/><text class="m" x="35" y="4.400">OutE_B</text></g>
<g transform="translate(1210.6 1158.9)"><use href="#lbO"/><text class="m" x="35" y="4.400">OutE_R</text></g>
<g transform="translate(1210.6 1172.95)"><use href="#lbO"/><text class="m" x="35" y="4.400">OutE_G</text></g>
<g transform="translate(1210.6 1187)"><use href="#lbO"/><text class="m" x="35" y="4.400">OutD_B</text></g>
<g transform="translate(1210.6 1201.05)"><use href="#lbO"/><text class="m" x="35" y="4.400">OutD_R</text></g>
<g transform="translate(1210.6 1215.1)"><use href="#lbO"/><text class="m" x="35" y="4.400">OutD_G</text></g>
</g>
<g id="CON4" transform="translate(0 1082.5)"><use href="#rca"/><text x="169.500" y="73.200">R</text><text x="169.500" y="101.200">B</text><text x="169.500" y="129.900">G</text><text class="m" x="75" y="144.300">4</text><text class="m" x="173.300" y="144.300">8</text><text x="270" y="144.300">12</text><text x="329" y="73.200">CON4</text><text x="329" y="87.500">RCA_GBR_X3</text></g>
<g id="CON5" transform="translate(366.2 1082.5)"><use href="#rca"/><text x="169.500" y="73.200">R</text><text x="169.500" y="101.200">B</text><text x="169.500" y="129.900">G</text><text class="m" x="75" y="144.300">4</text><text class="m" x="173.300" y="144.300">8</text><text x="270" y="144.300">12</text><text x="329" y="73.200">CON5</text><text x="329" y="87.500">RCA_GBR_X3</text></g>
<g id="inLabels4"><g transform="translate(337.8 1018.7)"><use href="#lbl"/><text class="m" x="31" y="4.400">InA_G</text></g><g transform="translate(337.8 1032.7)"><use href="#lbl"/><text class="m" x="31" y="4.400">InA_B</text></g><g transform="translate(337.8 1046.7)"><use href="#lbl"/><text class="m" x="31" y="4.400">InA_R</text></g><g transform="translate(337.8 1060.7)"><use href="#lbl"/><text class="m" x="31" y="4.400">InB_G</text></g><g transform="translate(337.8 1074.7)"><use href="#lbl"/><text class="m" x="31" y="4.400">InB_B</text></g><g transform="translate(337.8 1088.7)"><use href="#lbl"/><text class="m" x="31" y="4.400">InB_R</text></g><g transform="translate(337.8 1102.7)"><use href="#lbl"/><text class="m" x="31" y="4.400">InC_G</text></g><g transform="translate(337.8 1116.7)"><use href="#lbl"/><text class="m" x="31" y="4.400">InC_B</text></g><g transform="translate(337.8 1130.7)"><use href="#lbl"/><text class="m" x="31" y="4.400">InC_R</text></g></g>
<g id="inLabels5"><g transform="translate(704 1018.7)"><use href="#lbl"/><text class="m" x="31" y="4.400">InD_G</text></g><g transform="translate(704 1032.7)"><use href="#lbl"/><text class="m" x="31" y="4.400">InD_B</text></g><g transform="translate(704 1046.7)"><use href="#lbl"/><text class="m" x="31" y="4.400">InD_R</text></g><g transform="translate(704 1060.7)"><use href="#lbl"/><text class="m" x="31" y="4.400">InE_G</text></g><g transform="translate(704 1074.7)"><use href="#lbl"/><text class="m" x="31" y="4.400">InE_B</text></g><g transform="translate(704 1088.7)"><use href="#lbl"/><text class="m" x="31" y="4.400">InE_R</text></g><g transform="translate(704 1102.7)"><use href="#lbl"/><text class="m" x="31" y="4.400">InF_G</text></g><g transform="translate(704 1116.7)"><use href="#lbl"/><text class="m" x="31" y="4.400">InF_B</text></g><g transform="translate(704 1130.7)"><use href="#lbl"/><text class="m" x="31" y="4.400">InF_R</text></g></g>
<g id="terminations">
<text transform="translate(110 1213)rotate(-90)">R143</text><text transform="translate(123.7 1213)rotate(-90)">R144</text><text transform="translate(138 1213)rotate(-90)">R145</text><text transform="translate(194.6 1213)rotate(-90)">R146</text><text transform="translate(208.3 1213)rotate(-90)">R147</text><text transform="translate(222.7 1213)rotate(-90)">R148</text><text transform="translate(307.3 1213)rotate(-90)">R149</text><text transform="translate(321.6 1213)rotate(-90)">R150</text><text transform="translate(335.9 1213)rotate(-90)">R151</text>
<text transform="translate(476.3 1213)rotate(-90)">R152</text><text transform="translate(490 1213)rotate(-90)">R153</text><text transform="translate(504.3 1213)rotate(-90)">R154</text><text transform="translate(574.7 1213)rotate(-90)">R155</text><text transform="translate(589 1213)rotate(-90)">R156</text><text transform="translate(603.3 1213)rotate(-90)">R157</text><text transform="translate(673.7 1213)rotate(-90)">R158</text><text transform="translate(687.5 1213)rotate(-90)">R159</text><text transform="translate(701.7 1213)rotate(-90)">R160</text>
<text transform="translate(110 1270)rotate(-90)">75</text><text transform="translate(123.7 1270)rotate(-90)">75</text><text transform="translate(138 1270)rotate(-90)">75</text><text transform="translate(194.6 1270)rotate(-90)">75</text><text transform="translate(208.3 1270)rotate(-90)">75</text><text transform="translate(222.7 1270)rotate(-90)">75</text><text transform="translate(307.3 1270)rotate(-90)">75</text><text transform="translate(321.6 1270)rotate(-90)">75</text><text transform="translate(335.9 1270)rotate(-90)">75</text>
<text transform="translate(476.3 1270)rotate(-90)">75</text><text transform="translate(490 1270)rotate(-90)">75</text><text transform="translate(504.3 1270)rotate(-90)">75</text><text transform="translate(574.7 1270)rotate(-90)">75</text><text transform="translate(589 1270)rotate(-90)">75</text><text transform="translate(603.3 1270)rotate(-90)">75</text><text transform="translate(673.7 1270)rotate(-90)">75</text><text transform="translate(687.5 1270)rotate(-90)">75</text><text transform="translate(701.7 1270)rotate(-90)">75</text>
</g>
<g id="titleBlock"><path class="w" d="M1590.500 1201.300H2083.700V1313.700H1590.500ZM1590.500 1243.300H2083.700M1590.500 1285.700H2083.700M1590.500 1300H2083.700M1661.400 1243.300V1285.700M1942.600 1243.300V1285.700M1872.700 1285.700V1313.700"/>
<text x="1598" y="1211.700">Title</text><text class="m" x="1819.700" y="1225.700">Component Video Switcher Input/Output</text><text x="1598" y="1254">Size</text><text x="1605" y="1275.700">B</text><text x="1668.600" y="1254">Number</text><text class="m" x="1797.400" y="1268.700">13812c0i</text><text x="1950" y="1254">Revision</text><text x="1985.400" y="1268.700">Rev C</text><text x="1598" y="1296.700">Date:</text><text x="1661.800" y="1296.700">21-Jun-2006</text><text x="1879" y="1296.700">Sheet</text><text x="1919.300" y="1296.700">of</text><text x="1957" y="1296.700">2 of 11</text><text x="1598" y="1310.700">File:</text><text x="1661.800" y="1310.700">C:\BK_Data\component switcher\13812c00.ddb</text><text x="1879" y="1310.700">Drawn By:</text><text x="1957" y="1310.700">RJD</text></g>
</svg>
